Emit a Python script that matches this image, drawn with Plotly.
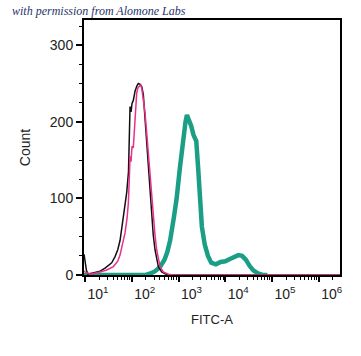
import plotly.graph_objects as go

# log10(FITC-A) positions and counts
black_log = [0.979, 1.00, 1.03, 1.064, 1.171, 1.321, 1.428, 1.571, 1.642, 1.70, 1.749, 1.819, 1.892, 1.93,
             1.955, 1.963, 1.985, 2.005, 2.033, 2.07, 2.11, 2.14, 2.18, 2.213, 2.247, 2.283, 2.32, 2.354,
             2.39, 2.427, 2.46, 2.497, 2.53, 2.568, 2.64, 2.748, 2.85, 6.46]
black_cnt = [27, 18, 6, 1, 3, 5, 9, 16, 24, 33, 45, 75, 108, 135,
             200, 220, 213, 224, 228, 240, 247, 250, 249, 246, 236, 205, 170, 137,
             105, 76, 52, 33, 20, 11, 4, 0.5, 0, 0]

pink_log = [0.979, 1.00, 1.107, 1.2, 1.321, 1.464, 1.606, 1.70, 1.749, 1.80, 1.856, 1.90, 1.927, 1.95,
            1.963, 1.984, 2.005, 2.033, 2.07, 2.106, 2.135, 2.162, 2.19, 2.213, 2.25, 2.283, 2.32, 2.354,
            2.39, 2.425, 2.461, 2.50, 2.533, 2.57, 2.604, 2.675, 2.782, 2.9, 6.46]
pink_cnt = [5, 4, 1, 2, 4, 6.5, 11, 18, 26, 40, 55, 75, 94, 130,
            155, 148, 168, 166, 203, 238, 245, 246, 248, 244, 230, 212, 185, 159,
            129, 100, 72, 50, 33, 20, 11, 4, 1, 0, 0]

teal_log = [0.979, 2.30, 2.40, 2.50, 2.60, 2.70, 2.76, 2.82, 2.90, 2.96, 3.03, 3.10, 3.15, 3.18, 3.22,
            3.27, 3.32, 3.38, 3.42, 3.46, 3.50, 3.56, 3.63, 3.70, 3.80, 3.90, 4.00, 4.10, 4.20, 4.28,
            4.36, 4.44, 4.52, 4.60, 4.70, 4.80, 4.90]
teal_cnt = [0, 0, 2, 5, 10, 20, 30, 45, 75, 100, 140, 180, 200, 209, 203,
            195, 183, 175, 140, 100, 63, 40, 25, 16, 14, 17, 18, 21, 24, 26,
            25, 20, 12, 6, 2, 0, 0]

decades = [1, 2, 3, 4, 5, 6]
y_ticks = [0, 100, 200, 300]

FONT = "Liberation Sans, Arial, sans-serif"

fig = go.Figure()
fig.add_trace(go.Scatter(x=[10 ** v for v in teal_log], y=teal_cnt, mode="lines",
                         line=dict(color="#1a9e85", width=4.5), hoverinfo="skip"))
fig.add_trace(go.Scatter(x=[10 ** v for v in black_log], y=black_cnt, mode="lines",
                         line=dict(color="#111111", width=1.5), hoverinfo="skip"))
fig.add_trace(go.Scatter(x=[10 ** v for v in pink_log], y=pink_cnt, mode="lines",
                         line=dict(color="#e8308c", width=1.5), hoverinfo="skip"))

minor_x = [m * 10 ** d for d in range(1, 7) for m in range(2, 10) if m * 10 ** d < 10 ** 6.455]

fig.update_layout(
    width=361, height=356,
    margin=dict(l=84, r=21, t=20, b=81),
    paper_bgcolor="white", plot_bgcolor="white",
    showlegend=False,
    font=dict(family=FONT, size=13, color="#222222"),
    xaxis=dict(
        type="log", range=[0.978, 6.455],
        tickmode="array", tickvals=[10 ** d for d in decades],
        ticktext=["10<sup>%d</sup>" % d for d in decades],
        ticks="outside", ticklen=5, tickwidth=1.5, tickcolor="black",
        ticklabelshift=13,
        minor=dict(tickmode="array", tickvals=minor_x, ticks="outside", ticklen=3,
                   tickwidth=1, tickcolor="black"),
        showline=True, linewidth=2, linecolor="black", mirror=True,
        showgrid=False, zeroline=False,
        tickfont=dict(size=14, family=FONT, color="#222222"),
        title=dict(text="FITC-A", font=dict(size=13, family=FONT, color="#222222"), standoff=14),
    ),
    yaxis=dict(
        range=[0, 333],
        tickmode="array", tickvals=y_ticks,
        ticks="outside", ticklen=6, tickwidth=2, tickcolor="black",
        minor=dict(dtick=25, tick0=0, ticks="outside", ticklen=3, tickwidth=1, tickcolor="black"),
        showline=True, linewidth=2, linecolor="black", mirror=True,
        showgrid=False, zeroline=False,
        tickfont=dict(size=14, family=FONT, color="#222222"),
        title=dict(text="Count", font=dict(size=14, family=FONT, color="#222222"), standoff=16),
    ),
    annotations=[dict(
        text="<i>with permission from Alomone Labs</i>",
        xref="paper", yref="paper", x=0, y=1, xshift=-74, yshift=0,
        xanchor="left", yanchor="bottom", showarrow=False,
        font=dict(family="Liberation Serif, DejaVu Serif, serif", size=12, color="#1f3468"),
    )],
)

fig.write_html("out.html", config={"displayModeBar": False},
               post_script="document.body.style.margin='0';")
